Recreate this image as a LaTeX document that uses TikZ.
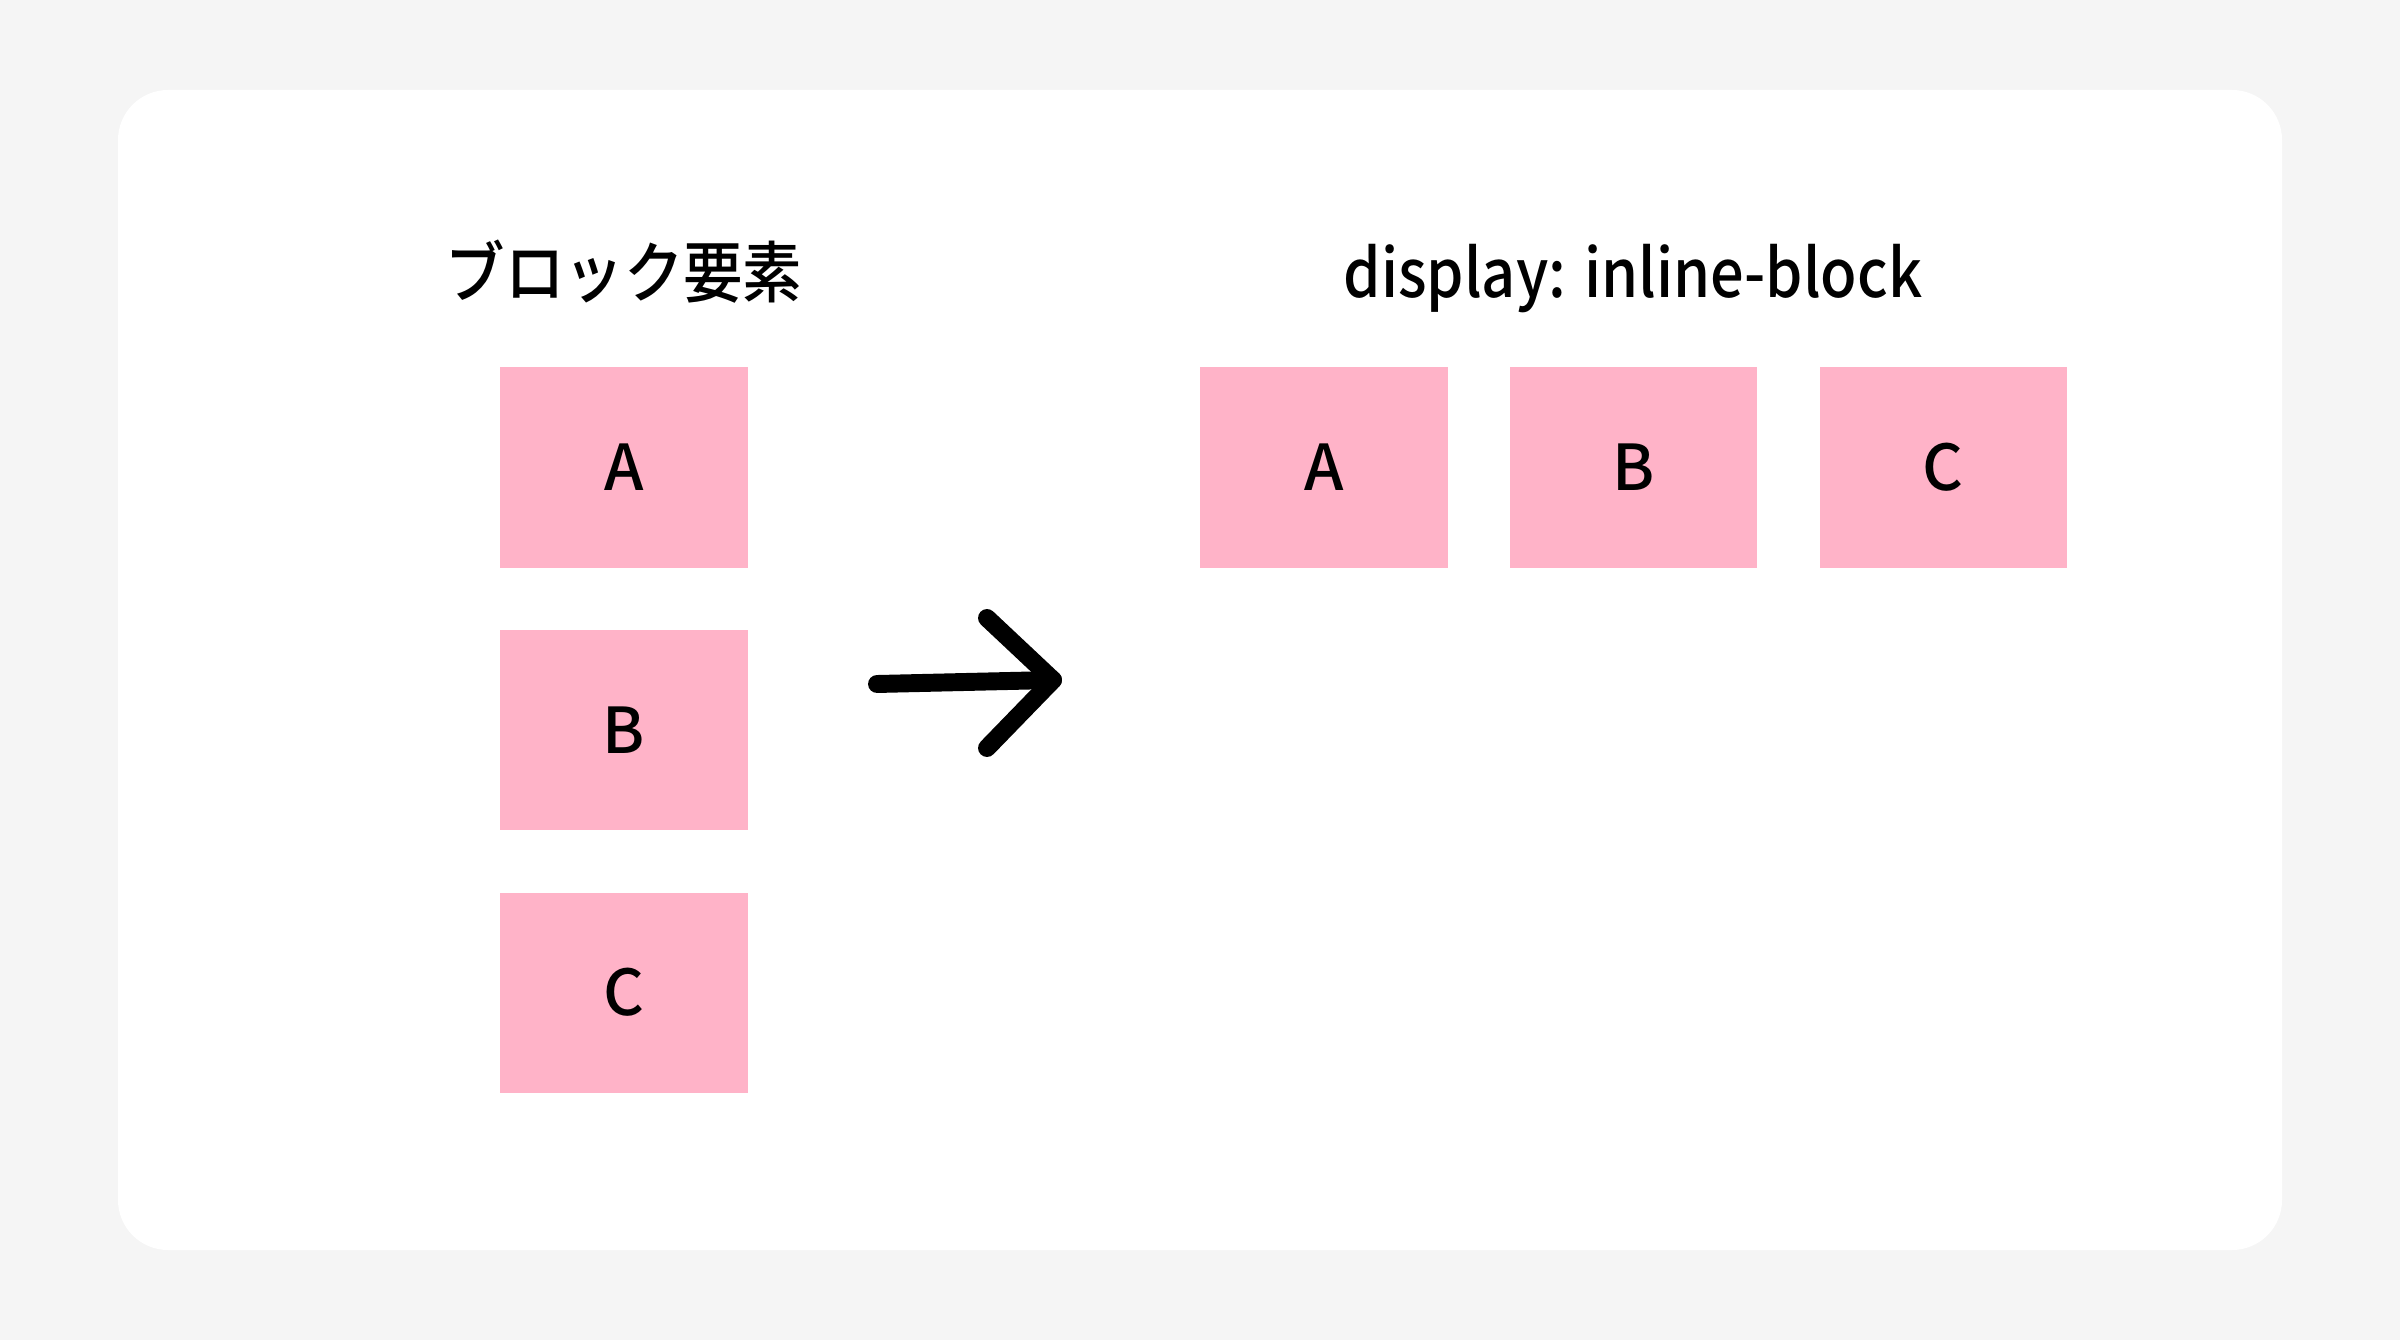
\documentclass[tikz,border=0pt]{standalone}
\usepackage{fontspec}
\setmainfont{Noto Sans CJK JP Medium}
\usepackage{graphicx}
\usepackage{xcolor}
\usetikzlibrary{positioning}
\definecolor{pagegray}{HTML}{F5F5F5}
\definecolor{boxpink}{HTML}{FFB3C8}
\newcommand{\narrow}[2]{\scalebox{#1}[1]{#2}}
\tikzset{%
	card/.style     = {fill=white, rounded corners=0.5cm}, % Panel
	block/.style    = {fill=boxpink, inner sep=0pt, minimum width=2.47cm, minimum height=2.0cm, font=\fontsize{18}{22}\selectfont}, % Box
	heading/.style  = {anchor=base, inner sep=0pt, font=\fontsize{19}{23}\selectfont}, % Title
	waypoint/.style = {coordinate},
	bigarrow/.style = {line width=5.1pt, line cap=round, line join=round},
}
\begin{document}
\begin{tikzpicture}[x=0.01cm,y=-0.01cm,node distance=0.61cm]
	\fill[pagegray] (0,0) rectangle (2400,1340);
	\useasboundingbox (0,0) rectangle (2400,1340);
	\fill[card] (118,90) rectangle (2282,1250);
	
	% block elements
	\node [heading] (tblock) at (624,298) {\narrow{0.89}{ブロック要素}};
	\node [block] (la) at (624,467.5) {A};
	\node [block] (lb) [below=of la] {B};
	\node [block] (lc) [below=of lb] {C};
	
	% inline-block elements
	\node [heading] (tinline) at (1633,298) {\narrow{0.89}{display: inline-block}};
	\node [block] (ra) at (1324,467.5) {A};
	\node [block] (rb) [right=of ra] {B};
	\node [block] (rc) [right=of rb] {C};
	
	% arrow
	\node [waypoint] (tail) at (877,684) {};
	\node [waypoint] (tip) at (1053,680) {};
	\node [waypoint] (htop) at (987,618) {};
	\node [waypoint] (hbot) at (987,748) {};
	\draw[bigarrow] (tail) -- (tip);
	\draw[bigarrow] (htop) -- (tip) -- (hbot);
\end{tikzpicture}
\end{document}
